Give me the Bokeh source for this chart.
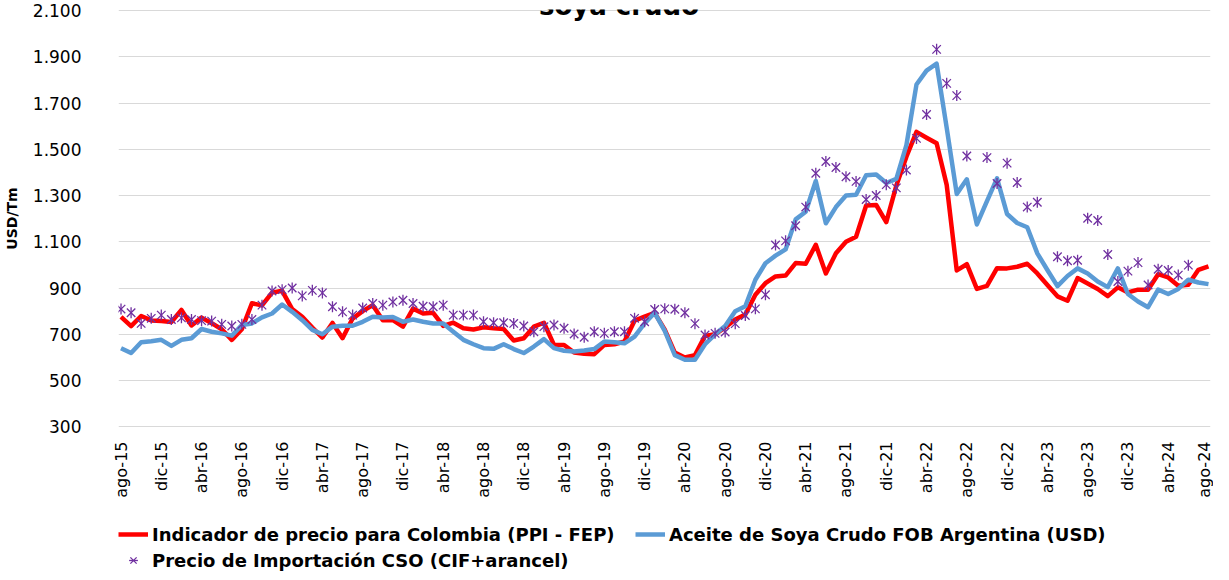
import numpy as np
from bokeh.plotting import figure
from bokeh.layouts import column
from bokeh.models import Range1d, FixedTicker, Legend, LegendItem, Label, ColumnDataSource
from bokeh.embed import file_html
from bokeh.resources import INLINE

# ---------------- data ----------------
tick_labels = ["ago-15", "dic-15", "abr-16", "ago-16", "dic-16", "abr-17", "ago-17",
               "dic-17", "abr-18", "ago-18", "dic-18", "abr-19", "ago-19", "dic-19",
               "abr-20", "ago-20", "dic-20", "abr-21", "ago-21", "dic-21", "abr-22",
               "ago-22", "dic-22", "abr-23", "ago-23", "dic-23", "abr-24", "ago-24"]

y_ticks = [300, 500, 700, 900, 1100, 1300, 1500, 1700, 1900, 2100]
y_tick_labels = ["300", "500", "700", "900", "1.100", "1.300", "1.500", "1.700", "1.900", "2.100"]

# monthly, ago-15 .. ago-24
ppi_fep = [775, 735, 779, 760, 757, 753, 805, 738, 772, 748, 722, 676,
           722, 834, 825, 880, 888, 809, 776, 729, 686, 749, 683, 768,
           800, 826, 761, 761, 733, 811, 790, 793, 736, 750, 726, 721,
           730, 726, 723, 673, 683, 733, 750, 654, 654, 621, 616, 614,
           654, 657, 669, 759, 776, 793, 720, 621, 600, 610, 693, 700,
           730, 764, 786, 871, 921, 950, 954, 1008, 1005, 1087, 963, 1050,
           1100, 1122, 1257, 1259, 1185, 1343, 1468, 1575, 1550, 1526, 1346, 976,
           1003, 896, 909, 986, 985, 992, 1005, 963, 913, 864, 845, 943,
           920, 896, 865, 903, 881, 893, 893, 960, 946, 910, 914, 979,
           994]

fob_arg = [640, 619, 666, 670, 676, 650, 676, 683, 723, 711, 704, 694,
           740, 747, 773, 790, 829, 797, 761, 719, 700, 733, 737, 737,
           754, 776, 773, 775, 754, 764, 754, 747, 747, 711, 676, 657,
           640, 637, 657, 636, 619, 647, 679, 640, 629, 626, 630, 636,
           669, 666, 661, 690, 747, 793, 715, 610, 590, 590, 657, 700,
           736, 800, 821, 936, 1007, 1040, 1067, 1197, 1230, 1363, 1180, 1250,
           1300, 1303, 1388, 1391, 1354, 1372, 1518, 1780, 1840, 1870, 1593, 1307,
           1370, 1175, 1276, 1374, 1220, 1181, 1163, 1050, 978, 908, 952, 985,
           963, 928, 904, 985, 874, 842, 817, 893, 874, 896, 936, 924,
           917]

nan = float("nan")
cif_arancel = [809, 793, 747, 769, 783, 764, 771, 764, 759, 757, 743, 736,
               743, 764, 826, 887, 893, 900, 866, 890, 879, 819, 797, 783,
               814, 833, 826, 840, 847, 833, 821, 819, 826, 783, 783, 783,
               754, 750, 750, 747, 736, 711, 733, 740, 726, 701, 687, 711,
               704, 711, 711, 769, 754, 807, 810, 808, 793, 746, 697, 704,
               710, 746, 781, 810, 871, 1086, 1104, 1169, 1250, 1396, 1447, 1421,
               1381, 1361, 1283, 1300, 1347, 1333, 1410, 1547, 1650, 1932, 1785, 1732,
               1471, nan, 1464, 1352, 1440, 1356, 1250, 1271, nan, 1035, 1018, 1020,
               1202, 1192, 1045, 928, 973, 1010, 913, 981, 976, 956, 999, nan,
               nan]

series_names = ["Indicador de precio para Colombia (PPI - FEP)",
                "Aceite de Soya Crudo FOB Argentina (USD)",
                "Precio de Importación CSO (CIF+arancel)"]

months = list(range(len(ppi_fep)))
tick_pos = list(range(0, len(months), 4))

src = ColumnDataSource(dict(x=months, ppi=ppi_fep, fob=fob_arg,
                            cif=np.array(cif_arancel, dtype=float)))

RED = "#FF0000"
BLUE = "#5B9BD5"
PURPLE = "#7030A0"
FONT = "DejaVu Sans"


def draw_series(fig):
    r1 = fig.line("x", "ppi", source=src, line_color=RED, line_width=4.5, line_join="round")
    r2 = fig.line("x", "fob", source=src, line_color=BLUE, line_width=4.5, line_join="round")
    r3 = fig.scatter("x", "cif", source=src, marker="x", size=12, line_color=PURPLE, line_width=1.3)
    r4 = fig.scatter("x", "cif", source=src, marker="dash", angle=np.pi / 2, size=11,
                     line_color=PURPLE, line_width=1.3)
    return r1, r2, r3, r4


# ---------------- main chart ----------------
p = figure(width=1213, height=500, output_backend="svg", toolbar_location=None,
           x_range=Range1d(-0.25, 108.2), y_range=Range1d(297, 2104.3),
           min_border_left=115, min_border_right=3, min_border_top=9, min_border_bottom=73)
p.outline_line_color = None
p.background_fill_color = "white"
p.border_fill_color = "white"

draw_series(p)

p.xaxis.ticker = FixedTicker(ticks=tick_pos)
p.xaxis.major_label_overrides = {t: l for t, l in zip(tick_pos, tick_labels)}
p.xaxis.major_label_orientation = np.pi / 2
p.xaxis.major_label_text_font = FONT
p.xaxis.major_label_text_font_size = "16px"
p.xaxis.major_label_text_color = "black"
p.xaxis.major_label_standoff = 8
p.xaxis.major_tick_out = 6
p.xaxis.axis_line_color = None
p.xaxis.major_tick_line_color = None
p.xaxis.minor_tick_line_color = None

p.yaxis.ticker = FixedTicker(ticks=y_ticks)
p.yaxis.major_label_overrides = {t: l for t, l in zip(y_ticks, y_tick_labels)}
p.yaxis.major_label_text_font = FONT
p.yaxis.major_label_text_font_size = "17px"
p.yaxis.major_label_text_color = "black"
p.yaxis.major_label_standoff = 31
p.yaxis.axis_line_color = None
p.yaxis.major_tick_line_color = None
p.yaxis.minor_tick_line_color = None
p.yaxis.axis_label = "USD/Tm"
p.yaxis.axis_label_text_font = FONT
p.yaxis.axis_label_text_font_style = "bold"
p.yaxis.axis_label_text_font_size = "14px"
p.yaxis.axis_label_text_color = "black"
p.yaxis.axis_label_standoff = 10

p.xgrid.visible = False
p.ygrid.grid_line_color = "#D9D9D9"
p.ygrid.grid_line_width = 1

# title (cut off at the top, as in the original)
p.add_layout(Label(x=500.5, y=422, x_units="screen", y_units="screen", text="soya crudo",
                   text_align="center", text_baseline="alphabetic", text_font=FONT,
                   text_font_size="26px", text_font_style="bold", text_color="black"))

# ---------------- legend strip ----------------
lg = figure(width=1213, height=72, output_backend="svg", toolbar_location=None,
            x_range=Range1d(0, 1), y_range=Range1d(0, 1),
            x_axis_type=None, y_axis_type=None,
            min_border_left=0, min_border_right=0, min_border_top=0, min_border_bottom=0)
lg.outline_line_color = None
lg.grid.visible = False
l1, l2, l3, l4 = draw_series(lg)   # same series, outside this strip's ranges

legend = Legend(items=[
    LegendItem(label=series_names[0], renderers=[l1]),
    LegendItem(label=series_names[1], renderers=[l2]),
    LegendItem(label=series_names[2], renderers=[l3, l4]),
], location=(0, 1), orientation="horizontal", ncols=2)
legend.glyph_width = 30
legend.glyph_height = 22
legend.label_height = 22
legend.label_width = 479
legend.label_standoff = 4
legend.spacing = 4
legend.padding = 0
legend.margin = 0
legend.border_line_color = None
legend.background_fill_alpha = 0
legend.label_text_font = FONT
legend.label_text_font_style = "bold"
legend.label_text_font_size = "18px"
legend.label_text_color = "black"
lg.add_layout(legend, "center")

layout = column(p, lg, spacing=0)
open("out.html", "w").write(file_html(layout, INLINE))
